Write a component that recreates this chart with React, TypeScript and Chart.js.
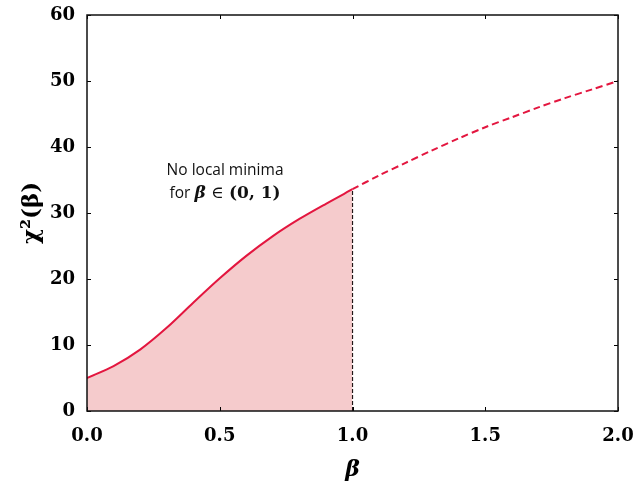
import React, { useEffect, useRef } from "react";
import { Chart, registerables } from "chart.js";

Chart.register(...registerables);

const betaSolid = [0, 0.1, 0.2, 0.3, 0.4, 0.5, 0.6, 0.7, 0.8, 0.9, 1.0];
const chiSolid = [5.0, 6.8, 9.3, 12.6, 16.4, 20.1, 23.5, 26.5, 29.1, 31.4, 33.6];
const betaDashed = [1.0, 1.1, 1.2, 1.3, 1.4, 1.5, 1.6, 1.7, 1.8, 1.9, 2.0];
const chiDashed = [33.6, 35.7, 37.6, 39.5, 41.3, 43.0, 44.5, 46.0, 47.4, 48.7, 50.0];
const vlineBeta = [1.0, 1.0];
const vlineChi = [0, 33.6];
const xTicks = [0, 0.5, 1.0, 1.5, 2.0];
const yTicks = [0, 10, 20, 30, 40, 50, 60];
const noteLine1 = "No local minima";
const noteLine2Prefix = "for ";
const noteLine2Math = ["β", " ∈ ", "(0, 1)"];
const noteBeta = 0.52;
const noteChi1 = 35.8;
const noteChi2 = 32.3;

const crimson = "#e3163f";
const fillPink = "rgba(236, 160, 162, 0.55)";

const frameAndTicks = {
  id: "frameAndTicks",
  afterDatasetsDraw(chart: any) {
    const { ctx, chartArea: a, scales } = chart;
    ctx.save();
    ctx.strokeStyle = "#000";
    ctx.lineWidth = 1;
    const L = 4;
    ctx.beginPath();
    for (const v of yTicks) {
      const y = Math.round(scales.y.getPixelForValue(v)) + 0.5;
      ctx.moveTo(a.left, y);
      ctx.lineTo(a.left + L, y);
      ctx.moveTo(a.right, y);
      ctx.lineTo(a.right - L, y);
    }
    for (const v of xTicks) {
      const x = Math.round(scales.x.getPixelForValue(v)) + 0.5;
      ctx.moveTo(x, a.bottom);
      ctx.lineTo(x, a.bottom - L);
      ctx.moveTo(x, a.top);
      ctx.lineTo(x, a.top + L);
    }
    ctx.stroke();
    ctx.lineWidth = 1.5;
    ctx.strokeStyle = "#111";
    ctx.strokeRect(a.left, a.top, a.right - a.left, a.bottom - a.top);

    // annotation
    const cx = scales.x.getPixelForValue(noteBeta);
    const y1 = scales.y.getPixelForValue(noteChi1);
    const y2 = scales.y.getPixelForValue(noteChi2);
    ctx.fillStyle = "#111";
    ctx.textBaseline = "alphabetic";
    ctx.textAlign = "center";
    ctx.font = "15.5px 'Open Sans'";
    ctx.fillText(noteLine1, cx, y1);
    const fonts = [
      "15.5px 'Open Sans'",
      "bold italic 17px 'DejaVu Serif'",
      "17px 'DejaVu Serif'",
      "bold 17px 'DejaVu Serif'",
    ];
    const parts = [noteLine2Prefix, ...noteLine2Math];
    let total = 0;
    const widths: number[] = [];
    parts.forEach((p, i) => {
      ctx.font = fonts[i];
      const w = ctx.measureText(p).width;
      widths.push(w);
      total += w;
    });
    let x = cx - total / 2;
    ctx.textAlign = "left";
    parts.forEach((p, i) => {
      ctx.font = fonts[i];
      ctx.fillText(p, x, y2);
      x += widths[i];
    });
    ctx.restore();
  },
};

export default function App() {
  const ref = useRef<HTMLCanvasElement>(null);
  useEffect(() => {
    if (!ref.current) return;
    const chart = new Chart(ref.current, {
      type: "line",
      data: {
        datasets: [
          {
            data: betaSolid.map((b, i) => ({ x: b, y: chiSolid[i] })),
            borderColor: crimson,
            backgroundColor: fillPink,
            borderWidth: 2,
            fill: "origin",
            pointRadius: 0,
            tension: 0.3,
          },
          {
            data: betaDashed.map((b, i) => ({ x: b, y: chiDashed[i] })),
            borderColor: crimson,
            borderWidth: 2,
            borderDash: [7, 4],
            fill: false,
            pointRadius: 0,
            tension: 0.3,
          },
          {
            data: vlineBeta.map((b, i) => ({ x: b, y: vlineChi[i] })),
            borderColor: "#000",
            borderWidth: 1.2,
            borderDash: [4, 2],
            fill: false,
            pointRadius: 0,
          },
        ],
      },
      options: {
        animation: false,
        responsive: false,
        layout: { padding: { top: 15, right: 18, left: 0, bottom: 0 } },
        plugins: { legend: { display: false }, tooltip: { enabled: false } },
        scales: {
          x: {
            type: "linear",
            min: 0,
            max: 2,
            afterBuildTicks: (s: any) => {
              s.ticks = xTicks.map((v) => ({ value: v }));
            },
            afterFit: (s: any) => {
              s.height = 72;
              s.paddingRight = 0;
              s.paddingLeft = 0;
            },
            grid: { display: false },
            border: { display: false },
            ticks: {
              color: "#000",
              padding: 7,
              maxRotation: 0,
              font: { family: "'DejaVu Serif'", size: 18, weight: "bold" },
              callback: (v: any) => Number(v).toFixed(1),
            },
            title: {
              display: true,
              text: "β",
              color: "#000",
              padding: { top: 8, bottom: 0 },
              font: { family: "'DejaVu Serif'", size: 22, weight: "bold", style: "italic" },
            },
          },
          y: {
            type: "linear",
            min: 0,
            max: 60,
            afterBuildTicks: (s: any) => {
              s.ticks = yTicks.map((v) => ({ value: v }));
            },
            afterFit: (s: any) => {
              s.width = 87;
              s.paddingTop = 0;
              s.paddingBottom = 0;
            },
            grid: { display: false },
            border: { display: false },
            ticks: {
              color: "#000",
              padding: 4,
              font: { family: "'DejaVu Serif'", size: 18, weight: "bold" },
            },
            title: {
              display: true,
              text: "χ²(β)",
              color: "#000",
              padding: { top: 18, bottom: 0 },
              font: { family: "'DejaVu Serif'", size: 23, weight: "bold" },
            },
          },
        },
      },
      plugins: [frameAndTicks],
    } as any);
    return () => chart.destroy();
  }, []);
  return (
    <div style={{ position: "fixed", left: 0, top: 0, width: 636, height: 483, background: "#fff" }}>
      <canvas ref={ref} width={636} height={483} style={{ width: 636, height: 483 }} />
    </div>
  );
}
